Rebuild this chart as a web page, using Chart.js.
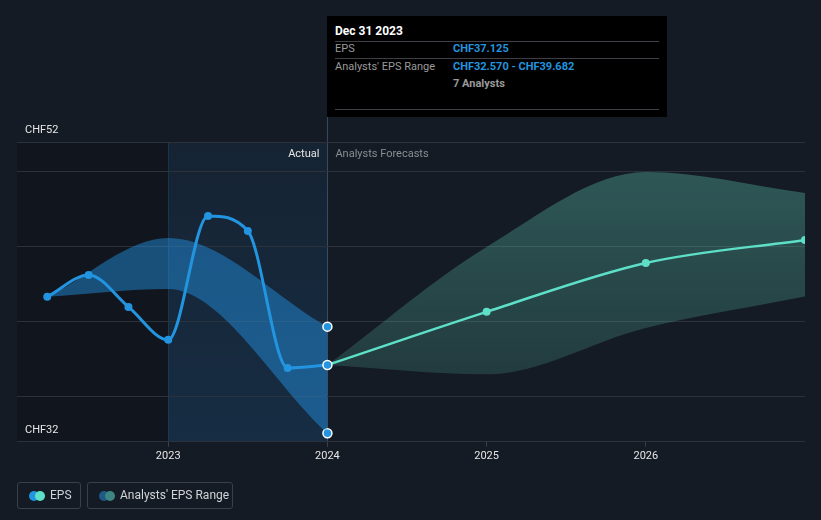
<!DOCTYPE html>
<html>
<head>
<meta charset="utf-8">
<script src="https://cdn.jsdelivr.net/npm/chart.js@4"></script>
<style>
  html, body { margin: 0; padding: 0; background: #151b24; }
  body { width: 821px; height: 520px; position: relative; overflow: hidden; font-family: Roboto, sans-serif; }
  #wrap { position: absolute; left: 0; top: 0; width: 821px; height: 520px; }
  .tip { position: absolute; left: 327px; top: 16px; width: 340px; height: 101px; background: #000; font-size: 11px; }
  .tip .row { position: absolute; left: 8px; width: 324px; }
  .tip .sep { position: absolute; left: 8px; width: 324px; height: 1px; background: #3d3f44; }
  .tip .lab { position: absolute; left: 0; color: #9a9a9a; }
  .tip .val { position: absolute; left: 118px; color: #2394df; font-weight: bold; }
  .legend { position: absolute; top: 482px; height: 25px; border: 1px solid #3a404b; border-radius: 3px; color: #d0d3d8; font-size: 12px; line-height: 25px; }
  .dot { position: absolute; top: 8px; width: 10px; height: 10px; border-radius: 50%; }
</style>
</head>
<body>
<div id="wrap"><canvas id="chart" width="821" height="520"></canvas></div>

<div class="tip">
  <div class="row" style="top:8px;color:#fff;font-weight:bold;font-size:12px;">Dec 31 2023</div>
  <div class="sep" style="top:25px"></div>
  <div class="row" style="top:26px"><span class="lab">EPS</span><span class="val">CHF37.125</span></div>
  <div class="sep" style="top:42px"></div>
  <div class="row" style="top:44px"><span class="lab">Analysts' EPS Range</span><span class="val">CHF32.570 - CHF39.682</span></div>
  <div class="row" style="top:61px"><span class="val" style="color:#9a9a9a">7 Analysts</span></div>
  <div class="sep" style="top:93px"></div>
</div>

<div class="legend" style="left:17px;width:62px;">
  <span class="dot" style="left:11px;background:#2394df"></span>
  <span class="dot" style="left:17px;background:#5ee0c8"></span>
  <span style="position:absolute;left:32px">EPS</span>
</div>
<div class="legend" style="left:87px;width:144px;">
  <span class="dot" style="left:11px;background:#1f5a86"></span>
  <span class="dot" style="left:17px;background:#3d8580"></span>
  <span style="position:absolute;left:32px">Analysts' EPS Range</span>
</div>

<script>
// x values are decimal years
const actualDates = [2022.24, 2022.5, 2022.75, 2023.0, 2023.25, 2023.5, 2023.75, 2024.0];
const epsActual = [41.67, 43.13, 41.0, 38.8, 47.07, 46.07, 36.93, 37.125];

const forecastDates = [2024.0, 2025.0, 2026.0, 2027.0];
const epsForecast = [37.125, 40.67, 43.93, 45.47];

const pastRangeDates = [2022.24, 2023.0, 2024.0];
const pastRangeHigh = [41.67, 45.6, 39.682];
const pastRangeLow = [41.67, 42.2, 32.57];

const forecastRangeHigh = [37.125, 45.0, 50.0, 48.6];
const forecastRangeLow = [37.125, 36.5, 39.6, 41.7];

const yearTicks = [2023, 2024, 2025, 2026];
const yTicks = [32, 35, 40, 45, 50, 52];

const BLUE = '#2394df';
const MINT = '#5ee0c8';

const toPoints = (xs, ys) => xs.map((x, i) => ({ x: x, y: ys[i] }));
const lastOnly = r => ctx => ctx.dataIndex === ctx.dataset.data.length - 1 ? r : 0;

// background regions + labels for actual / forecast
const regions = {
  id: 'regions',
  beforeDraw(chart) {
    const { ctx, chartArea, scales } = chart;
    const x23 = scales.x.getPixelForValue(2023);
    const x24 = scales.x.getPixelForValue(2024);
    ctx.save();
    ctx.fillStyle = 'rgba(0,0,0,0.16)';
    ctx.fillRect(chartArea.left, chartArea.top, x23 - chartArea.left, chartArea.bottom - chartArea.top);
    const g = ctx.createLinearGradient(0, chartArea.top, 0, chartArea.bottom);
    g.addColorStop(0, 'rgba(30,110,180,0.10)');
    g.addColorStop(1, 'rgba(30,110,180,0.22)');
    ctx.fillStyle = g;
    ctx.fillRect(x23, chartArea.top, x24 - x23, chartArea.bottom - chartArea.top);
    ctx.fillStyle = 'rgba(40,110,170,0.25)';
    ctx.fillRect(Math.round(x23), chartArea.top, 1, chartArea.bottom - chartArea.top);
    ctx.fillStyle = 'rgba(90,130,170,0.45)';
    ctx.fillRect(Math.round(x24), 117, 1, chartArea.bottom - 117);

    ctx.font = '11px Roboto';
    ctx.textBaseline = 'middle';
    ctx.textAlign = 'right';
    ctx.fillStyle = '#e6e6e6';
    ctx.fillText('Actual', x24 - 8, 154);
    ctx.textAlign = 'left';
    ctx.fillStyle = '#8a8d92';
    ctx.fillText('Analysts Forecasts', x24 + 8, 154);
    ctx.restore();
  }
};

new Chart(document.getElementById('chart'), {
  type: 'line',
  data: {
    datasets: [
      {
        label: 'EPS',
        data: toPoints(actualDates, epsActual),
        borderColor: BLUE,
        backgroundColor: BLUE,
        borderWidth: 3,
        cubicInterpolationMode: 'monotone',
        pointRadius: ctx => ctx.dataIndex === epsActual.length - 1 ? 4.5 : 4,
        pointBorderColor: ctx => ctx.dataIndex === epsActual.length - 1 ? '#fff' : BLUE,
        pointBorderWidth: ctx => ctx.dataIndex === epsActual.length - 1 ? 1.5 : 0,
        fill: false,
      },
      {
        label: 'EPS forecast',
        data: toPoints(forecastDates, epsForecast),
        borderColor: MINT,
        backgroundColor: MINT,
        borderWidth: 2.5,
        cubicInterpolationMode: 'monotone',
        pointRadius: ctx => ctx.dataIndex === 0 ? 0 : 4,
        pointBorderWidth: 0,
        fill: false,
      },
      {
        label: 'Range high',
        data: toPoints(pastRangeDates, pastRangeHigh),
        borderWidth: 0,
        borderColor: 'transparent',
        backgroundColor: 'rgba(35,150,235,0.45)',
        cubicInterpolationMode: 'monotone',
        pointRadius: lastOnly(4.5),
        pointBackgroundColor: BLUE,
        pointBorderColor: '#fff',
        pointBorderWidth: 1.5,
        fill: '+1',
      },
      {
        label: 'Range low',
        data: toPoints(pastRangeDates, pastRangeLow),
        borderWidth: 0,
        borderColor: 'transparent',
        cubicInterpolationMode: 'monotone',
        pointRadius: lastOnly(4.5),
        pointBackgroundColor: BLUE,
        pointBorderColor: '#fff',
        pointBorderWidth: 1.5,
        fill: false,
      },
      {
        label: 'Forecast high',
        data: toPoints(forecastDates, forecastRangeHigh),
        borderWidth: 0,
        borderColor: 'transparent',
        backgroundColor: ctx => {
          const area = ctx.chart.chartArea;
          if (!area) return 'rgba(94,200,180,0.3)';
          const g = ctx.chart.ctx.createLinearGradient(0, 172, 0, 400);
          g.addColorStop(0, 'rgba(94,200,180,0.35)');
          g.addColorStop(1, 'rgba(94,200,180,0.17)');
          return g;
        },
        cubicInterpolationMode: 'monotone',
        pointRadius: 0,
        fill: '+1',
      },
      {
        label: 'Forecast low',
        data: toPoints(forecastDates, forecastRangeLow),
        borderWidth: 0,
        borderColor: 'transparent',
        cubicInterpolationMode: 'monotone',
        pointRadius: 0,
        fill: false,
      },
    ],
  },
  options: {
    responsive: false,
    animation: false,
    events: [],
    layout: { padding: { top: 142, left: 1, right: 16, bottom: 54 } },
    plugins: {
      legend: { display: false },
      tooltip: { enabled: false },
    },
    scales: {
      x: {
        type: 'linear',
        min: 2022.05,
        max: 2027,
        afterBuildTicks: axis => { axis.ticks = yearTicks.map(v => ({ value: v })); },
        ticks: {
          color: '#e6e6e6',
          font: { family: 'Roboto', size: 11 },
          padding: 3,
          maxRotation: 0,
          callback: v => String(v),
        },
        grid: { drawOnChartArea: false, drawTicks: true, tickLength: 5, color: '#3a404b' },
        border: { display: false },
      },
      y: {
        min: 32,
        max: 52,
        afterBuildTicks: axis => { axis.ticks = yTicks.map(v => ({ value: v })); },
        ticks: {
          mirror: true,
          padding: 8,
          labelOffset: -12,
          color: '#e6e6e6',
          font: { family: 'Roboto', size: 11 },
          callback: v => (v === 32 || v === 52) ? 'CHF' + v : '',
        },
        grid: { color: '#2c323c', drawTicks: false },
        border: { display: false },
      },
    },
  },
  plugins: [regions],
});
</script>
</body>
</html>
